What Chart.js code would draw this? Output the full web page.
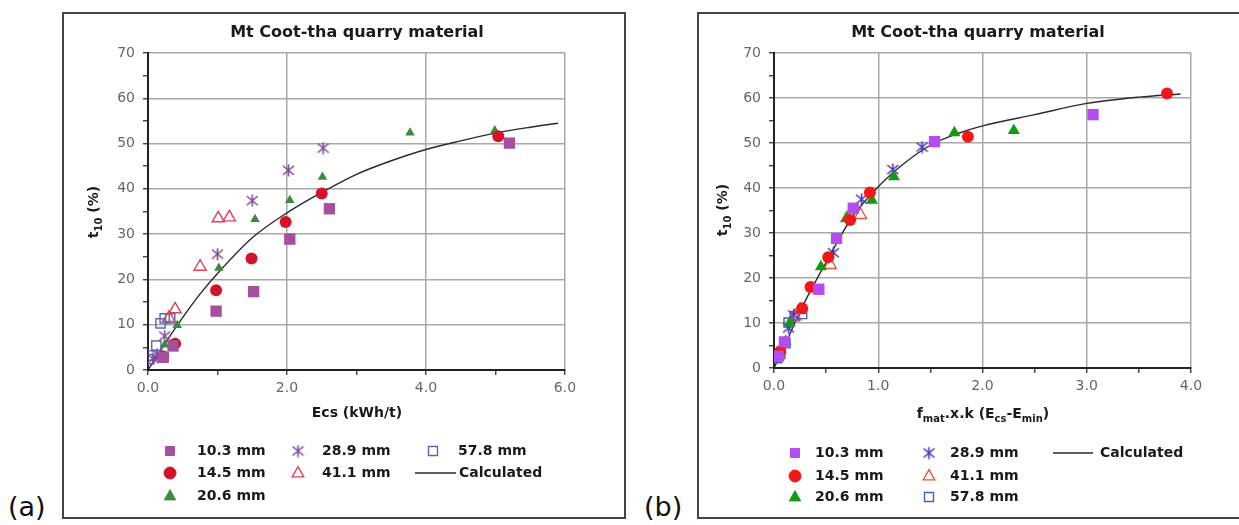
<!DOCTYPE html>
<html>
<head>
<meta charset="utf-8">
<script src="https://cdn.jsdelivr.net/npm/chart.js@4/dist/chart.umd.min.js"></script>
<style>
body { margin: 0; background: #fff; width: 1239px; height: 525px; position: relative; overflow: hidden; }
.frame { position: absolute; border: 2px solid #444; box-sizing: border-box; }
canvas { position: absolute; }
.tag { position: absolute; font: 27px "DejaVu Sans", sans-serif; color: #111; }
</style>
</head>
<body>
<div class="frame" style="left:62px;top:12px;width:564px;height:507px"></div>
<div class="frame" style="left:697px;top:12px;width:560px;height:507px"></div>
<canvas id="chartA" width="560" height="502" style="left:64px;top:14px"></canvas>
<canvas id="chartB" width="539" height="502" style="left:700px;top:14px"></canvas>
<div class="tag" style="left:8px;top:491px">(a)</div>
<div class="tag" style="left:644px;top:491px">(b)</div>
<script>
// panel (a): t10 against Ecs
let a10x = [0.22, 0.36, 0.98, 1.52, 2.04, 2.61, 5.20];
let a10y = [2.8, 5.3, 13.0, 17.3, 28.9, 35.6, 50.1];
let a14x = [0.22, 0.39, 0.98, 1.49, 1.98, 2.50, 5.04];
let a14y = [3.0, 5.8, 17.6, 24.6, 32.7, 39.0, 51.6];
let a20x = [0.24, 0.42, 1.02, 1.54, 2.04, 2.51, 3.77, 4.99];
let a20y = [5.6, 9.9, 22.5, 33.3, 37.5, 42.6, 52.4, 52.9];
let a28x = [0.07, 0.13, 0.24, 1.00, 1.50, 2.02, 2.52];
let a28y = [2.5, 3.5, 7.5, 25.6, 37.4, 44.1, 49.0];
let a41x = [0.30, 0.39, 0.75, 1.01, 1.17];
let a41y = [11.5, 13.4, 22.8, 33.5, 33.7];
let a57x = [0.02, 0.06, 0.12, 0.18, 0.24, 0.32];
let a57y = [2.4, 3.2, 5.4, 10.3, 11.4, 11.4];
let calcAx = [0, 0.25, 0.5, 0.75, 1.0, 1.5, 2.0, 2.5, 3.0, 3.5, 4.0, 4.5, 5.0, 5.5, 5.9];
let calcAy = [0, 6.0, 11.6, 16.8, 21.3, 29.2, 34.7, 39.2, 43.2, 46.2, 48.7, 50.6, 52.3, 53.6, 54.5];

// panel (b): t10 against fmat.x.k(Ecs-Emin)
let b10x = [0.04, 0.10, 0.43, 0.60, 0.76, 1.54, 3.06];
let b10y = [2.6, 5.8, 17.5, 28.8, 35.5, 50.3, 56.3];
let b14x = [0.06, 0.27, 0.35, 0.52, 0.73, 0.92, 1.86, 3.77];
let b14y = [3.7, 13.3, 18.0, 24.6, 32.9, 39.0, 51.4, 61.0];
let b20x = [0.11, 0.15, 0.45, 0.70, 0.94, 1.15, 1.73, 2.30];
let b20y = [5.9, 10.0, 22.5, 33.3, 37.3, 42.5, 52.3, 52.8];
let b28x = [0.04, 0.14, 0.19, 0.57, 0.84, 1.14, 1.42];
let b28y = [2.9, 8.9, 11.8, 25.6, 37.5, 44.1, 49.1];
let b41x = [0.20, 0.25, 0.54, 0.70, 0.83];
let b41y = [11.5, 12.9, 22.9, 33.3, 34.0];
let b57x = [0.03, 0.06, 0.11, 0.14, 0.20, 0.27];
let b57y = [2.2, 3.1, 5.5, 10.1, 11.5, 12.0];
let calcBx = [0, 0.1, 0.25, 0.5, 0.75, 1.0, 1.25, 1.5, 1.75, 2.0, 2.5, 3.0, 3.5, 3.9];
let calcBy = [0, 4.8, 12.6, 23.5, 33.5, 40.3, 45.5, 49.5, 52.0, 53.8, 56.3, 58.8, 60.2, 60.9];

let sizeLabels = ["10.3 mm", "14.5 mm", "20.6 mm", "28.9 mm", "41.1 mm", "57.8 mm", "Calculated"];
let chartTitle = "Mt Coot-tha quarry material";
let yTitle = [{t: "t"}, {t: "10", sub: true}, {t: " (%)"}];
let xTitleA = [{t: "Ecs (kWh/t)"}];
let xTitleB = [{t: "f"}, {t: "mat", sub: true}, {t: ".x.k (E"}, {t: "cs", sub: true}, {t: "-E"}, {t: "min", sub: true}, {t: ")"}];

const FONT = '"DejaVu Sans", sans-serif';

function pts(xs, ys)
{
    return xs.map((x, i) => ({x: x, y: ys[i]}));
}

function makeStar(color)
{
    let c = document.createElement("canvas");
    c.width = 13;
    c.height = 13;
    let g = c.getContext("2d");
    g.strokeStyle = color;
    g.lineWidth = 1.6;
    g.beginPath();
    g.moveTo(6.5, 0.5); g.lineTo(6.5, 12.5);
    g.moveTo(1, 2); g.lineTo(12, 11);
    g.moveTo(1, 11); g.lineTo(12, 2);
    g.stroke();
    return c;
}

function drawRich(ctx, parts, cx, cy)
{
    let big = "bold 14px " + FONT, small = "bold 10px " + FONT;
    let w = 0;
    parts.forEach(p => { ctx.font = p.sub ? small : big; w += ctx.measureText(p.t).width; });
    let x = cx - w / 2;
    ctx.textAlign = "left";
    ctx.textBaseline = "alphabetic";
    parts.forEach(p => {
        ctx.font = p.sub ? small : big;
        ctx.fillText(p.t, x, cy + (p.sub ? 4 : 0));
        x += ctx.measureText(p.t).width;
    });
}

function drawMarker(ctx, ds, x, y, r)
{
    ctx.save();
    ctx.fillStyle = ds.backgroundColor;
    ctx.strokeStyle = ds.borderColor;
    ctx.lineWidth = ds.borderWidth || 1;
    let s = ds.pointStyle;
    if (s instanceof HTMLCanvasElement) {
        ctx.drawImage(s, x - s.width / 2, y - s.height / 2);
    } else if (s == "rect") {
        ctx.beginPath();
        ctx.rect(x - r * 0.75, y - r * 0.75, r * 1.5, r * 1.5);
        ctx.fill(); ctx.stroke();
    } else if (s == "circle") {
        ctx.beginPath();
        ctx.arc(x, y, r, 0, Math.PI * 2);
        ctx.fill(); ctx.stroke();
    } else if (s == "triangle") {
        ctx.beginPath();
        ctx.moveTo(x, y - r * 1.05);
        ctx.lineTo(x + r * 0.95, y + r * 0.65);
        ctx.lineTo(x - r * 0.95, y + r * 0.65);
        ctx.closePath();
        ctx.fill(); ctx.stroke();
    }
    ctx.restore();
}

const deco = {
    id: "deco",
    afterDraw(chart, args, o)
    {
        let ctx = chart.ctx;
        ctx.save();
        ctx.fillStyle = "#1a1a1a";
        ctx.textAlign = "center";
        ctx.textBaseline = "middle";
        ctx.font = "bold 16px " + FONT;
        ctx.fillText(o.title, o.titleX, o.titleY);
        drawRich(ctx, o.xTitle, o.xTitleX, o.xTitleY);
        ctx.save();
        ctx.translate(o.yTitleX, o.yTitleY);
        ctx.rotate(-Math.PI / 2);
        drawRich(ctx, yTitle, 0, 0);
        ctx.restore();

        ctx.font = "bold 14px " + FONT;
        ctx.textAlign = "left";
        ctx.textBaseline = "middle";
        o.cells.forEach(c => {
            let ds = chart.data.datasets[c[0]];
            let y = o.rowY[c[2]];
            if (ds.showLine) {
                ctx.strokeStyle = ds.borderColor;
                ctx.lineWidth = 1.3;
                ctx.beginPath();
                ctx.moveTo(o.lineX[0], y);
                ctx.lineTo(o.lineX[1], y);
                ctx.stroke();
                ctx.fillText(ds.label, o.lineX[2], y);
            } else {
                drawMarker(ctx, ds, o.markX[c[1]], y, o.legR);
                ctx.fillStyle = "#1a1a1a";
                ctx.fillText(ds.label, o.textX[c[1]], y);
            }
        });
        ctx.restore();
    }
};

function axes(xMax, xStep, xMajor, yW, xH)
{
    let isMajor = (v, m) => Math.abs(v / m - Math.round(v / m)) < 1e-6;
    return {
        x: {
            type: "linear", min: 0, max: xMax,
            afterFit: s => { s.height = xH; },
            border: {color: "#222", width: 2},
            grid: {
                color: c => (isMajor(c.tick.value, xMajor) && c.tick.value > 0) ? "#a8a8a8" : "rgba(0,0,0,0)",
                lineWidth: 1.5, tickColor: "#333", tickLength: 5, tickWidth: 1.3
            },
            ticks: {
                stepSize: xStep, autoSkip: false, maxRotation: 0, padding: 5, color: "#666",
                font: {family: FONT, size: 14},
                callback: v => isMajor(v, xMajor) ? v.toFixed(1) : ""
            }
        },
        y: {
            type: "linear", min: 0, max: 70,
            afterFit: s => { s.width = yW; },
            border: {color: "#222", width: 2},
            grid: {
                color: c => (isMajor(c.tick.value, 10) && c.tick.value > 0) ? "#a8a8a8" : "rgba(0,0,0,0)",
                lineWidth: 1.5, tickColor: "#333", tickLength: 5, tickWidth: 1.3
            },
            ticks: {
                stepSize: 5, autoSkip: false, padding: 8, color: "#666",
                font: {family: FONT, size: 14},
                callback: v => isMajor(v, 10) ? String(v) : ""
            }
        }
    };
}

function dataset(label, data, style, radius, color, open)
{
    return {
        label: label, data: data, pointStyle: style, pointRadius: radius, pointHoverRadius: radius,
        backgroundColor: open ? "rgba(0,0,0,0)" : color, borderColor: color,
        borderWidth: open ? 1.4 : 0, showLine: false
    };
}

function calcSet(data)
{
    return {
        label: sizeLabels[6], data: data, showLine: true, borderColor: "#2a2a2a", backgroundColor: "#2a2a2a",
        borderWidth: 1.4, pointRadius: 0, cubicInterpolationMode: "monotone"
    };
}

new Chart(document.getElementById("chartA"), {
    type: "scatter",
    data: {
        datasets: [
            dataset(sizeLabels[0], pts(a10x, a10y), "rect", 8, "#a4509c", false),
            dataset(sizeLabels[1], pts(a14x, a14y), "circle", 6, "#d4122a", false),
            dataset(sizeLabels[2], pts(a20x, a20y), "triangle", 5.5, "#3c8a3c", false),
            dataset(sizeLabels[3], pts(a28x, a28y), makeStar("#7c4a96"), 6, "#7c4a96", false),
            dataset(sizeLabels[4], pts(a41x, a41y), "triangle", 7, "#e0405a", true),
            dataset(sizeLabels[5], pts(a57x, a57y), "rect", 6.5, "#5868b0", true),
            calcSet(pts(calcAx, calcAy))
        ]
    },
    options: {
        responsive: false, animation: false, devicePixelRatio: 1,
        layout: {padding: {top: 39, right: 59, left: 0, bottom: 116}},
        scales: axes(6, 1, 2, 84, 30),
        plugins: {
            legend: {display: false}, tooltip: {enabled: false},
            deco: {
                title: chartTitle, titleX: 293, titleY: 19,
                xTitle: xTitleA, xTitleX: 293, xTitleY: 403,
                yTitleX: 34, yTitleY: 198,
                cells: [[0, 0, 0], [1, 0, 1], [2, 0, 2], [3, 1, 0], [4, 1, 1], [5, 2, 0], [6, 2, 1]],
                rowY: [437, 459, 482], markX: [106, 234, 369], textX: [133, 258, 394],
                lineX: [351, 392, 395], legR: 6
            }
        }
    },
    plugins: [deco]
});

new Chart(document.getElementById("chartB"), {
    type: "scatter",
    data: {
        datasets: [
            dataset(sizeLabels[0], pts(b10x, b10y), "rect", 8, "#b44cf0", false),
            dataset(sizeLabels[1], pts(b14x, b14y), "circle", 6, "#f01818", false),
            dataset(sizeLabels[2], pts(b20x, b20y), "triangle", 7, "#129a12", false),
            dataset(sizeLabels[3], pts(b28x, b28y), makeStar("#4a2fb8"), 6, "#4a2fb8", false),
            dataset(sizeLabels[4], pts(b41x, b41y), "triangle", 7, "#e05a3a", true),
            dataset(sizeLabels[5], pts(b57x, b57y), "rect", 6.5, "#4a5ad0", true),
            calcSet(pts(calcBx, calcBy))
        ]
    },
    options: {
        responsive: false, animation: false, devicePixelRatio: 1,
        layout: {padding: {top: 39, right: 48, left: 0, bottom: 118}},
        scales: axes(4, 0.5, 1, 74, 30),
        plugins: {
            legend: {display: false}, tooltip: {enabled: false},
            deco: {
                title: chartTitle, titleX: 278, titleY: 19,
                xTitle: xTitleB, xTitleX: 283, xTitleY: 404,
                yTitleX: 27, yTitleY: 196,
                cells: [[0, 0, 0], [1, 0, 1], [2, 0, 2], [3, 1, 0], [4, 1, 1], [5, 1, 2], [6, 2, 0]],
                rowY: [439, 462, 483], markX: [95, 229, 0], textX: [115, 250, 0],
                lineX: [353, 393, 400], legR: 6
            }
        }
    },
    plugins: [deco]
});
</script>
</body>
</html>
